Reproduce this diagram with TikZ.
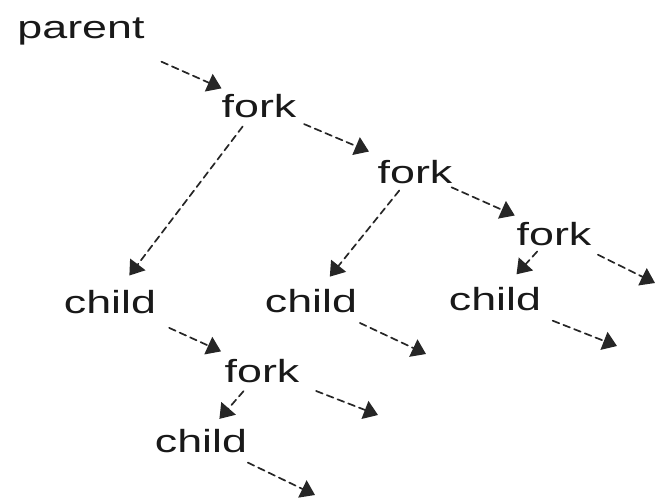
\documentclass[tikz,border=0pt]{standalone}
\usepackage{fontspec}
\setmainfont{Liberation Sans}[FakeStretch=1.4]
\usetikzlibrary{arrows.meta}

\begin{document}
\begin{tikzpicture}[x=1pt, y=-1pt, line cap=round, line join=round,
    proc/.style={font=\fontsize{32}{36}\selectfont, text=black!90, inner sep=0pt, text height=24pt, text depth=0pt, anchor=base},
    link/.style={draw=black!85, line width=1.7pt, dash pattern=on 7pt off 4.5pt, -{Triangle[length=14pt,width=19pt]}}]
  \useasboundingbox (0,0) rectangle (659,498);

  % labels, set on their baselines
  \node[proc] (parent) at (81,38) {parent};
  \node[proc] (fork1) at (259,117) {fork};
  \node[proc] (fork2) at (415,183) {fork};
  \node[proc] (fork3) at (554,245) {fork};
  \node[proc] (child1) at (110,313) {child};
  \node[proc] (child2) at (311,312) {child};
  \node[proc] (child3) at (495,310) {child};
  \node[proc] (fork4) at (262,382) {fork};
  \node[proc] (child4) at (201,452) {child};

  % loose ends
  \coordinate (end1) at (655,283);
  \coordinate (end2) at (426,354);
  \coordinate (end3) at (617,346);
  \coordinate (end4) at (378,415);
  \coordinate (end5) at (315,495);

  \draw[link, shorten <=88pt, shorten >=41pt] (parent.center) -- (fork1.center);
  \draw[link, shorten <=49pt, shorten >=50pt] (fork1.center) -- (fork2.center);
  \draw[link, shorten <=27pt, shorten >=32pt] (fork1.center) -- (child1.center);
  \draw[link, shorten <=40pt, shorten >=43pt] (fork2.center) -- (fork3.center);
  \draw[link, shorten <=25pt, shorten >=30pt] (fork2.center) -- (child2.center);
  \draw[link, shorten <=25pt, shorten >=32pt] (fork3.center) -- (child3.center);
  \draw[link, shorten <=49pt] (fork3.center) -- (end1);
  \draw[link, shorten <=65pt, shorten >=45pt] (child1.center) -- (fork4.center);
  \draw[link, shorten <=54pt] (child2.center) -- (end2);
  \draw[link, shorten <=62pt] (child3.center) -- (end3);
  \draw[link, shorten <=28pt, shorten >=28pt] (fork4.center) -- (child4.center);
  \draw[link, shorten <=58pt] (fork4.center) -- (end4);
  \draw[link, shorten <=52pt] (child4.center) -- (end5);
\end{tikzpicture}
\end{document}
